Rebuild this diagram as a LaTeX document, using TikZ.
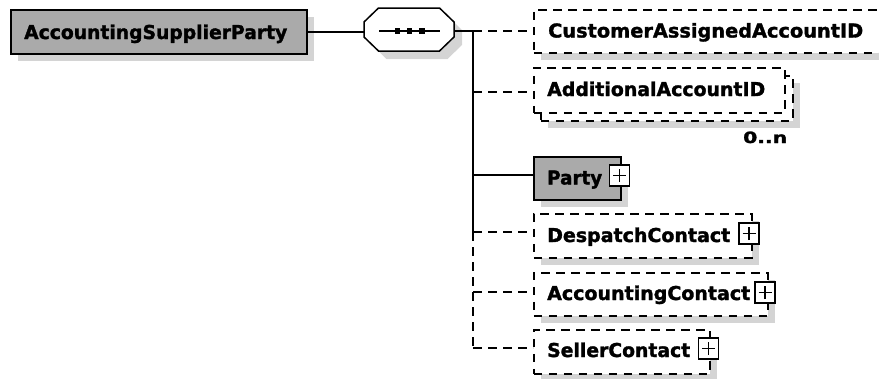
\documentclass[tikz,border=0pt]{standalone}
\usepackage{fontspec}
\setmainfont{DejaVu Sans}[BoldFeatures={FakeBold=1.6}]
\usepackage{graphicx}
\usetikzlibrary{shadows}
\definecolor{boxgray}{RGB}{170,170,170}
\definecolor{shd}{RGB}{212,212,212}
\newcommand{\fitlbl}[3][14.5]{\resizebox{#2pt}{#1pt}{\bfseries\vphantom{Al}#3}}
\tikzset{
  conn/.style={line width=1.5pt},
  opt/.style={conn, dash pattern=on 8.5pt off 6.5pt},
  box/.style={rectangle, anchor=north west, inner sep=0pt, line width=1.5pt, draw=black},
  shad/.style={drop shadow={shadow xshift=7pt, shadow yshift=-7pt, fill=shd, opacity=1, draw=none}},
  optbox/.style={box, fill=white, dash pattern=on 8.5pt off 6.5pt},
  reqbox/.style={box, fill=boxgray},
  lbl/.style={anchor=base west, inner sep=0pt},
  plusbox/.style={rectangle, draw=black, fill=white, line width=1.2pt, minimum width=20pt, minimum height=21pt, inner sep=0pt,
    path picture={
      \draw[line width=1.3pt] ([xshift=-6.5pt]path picture bounding box.center) -- ([xshift=6.5pt]path picture bounding box.center);
      \draw[line width=1.3pt] ([yshift=-6.5pt]path picture bounding box.center) -- ([yshift=6.5pt]path picture bounding box.center);}},
}
\begin{document}
\begin{tikzpicture}[x=1pt,y=-1pt]
\clip (0,0) rectangle (879,378);
% root element
\node[reqbox, shad, minimum width=296pt, minimum height=44pt] (asp) at (10,9) {};
\node[lbl] (aspt) at (24,39) {\fitlbl{263}{AccountingSupplierParty}};
% sequence compositor
\node[rectangle, inner sep=0pt, minimum width=90pt, minimum height=43pt, anchor=north west] (seq) at (364,8) {};
\begin{scope}[shift={(8pt,-8pt)}]
  \fill[shd] (378.5,8) -- (439.5,8) -- (454,22) -- (454,37) -- (439.5,51) -- (378.5,51) -- (364,37) -- (364,22) -- cycle;
\end{scope}
\draw[line width=1.5pt, fill=white] (378.5,8) -- (439.5,8) -- (454,22) -- (454,37) -- (439.5,51) -- (378.5,51) -- (364,37) -- (364,22) -- cycle;
\draw[line width=1.4pt] (379,31) -- (440,31);
\foreach \dx in {397.3,409.3,421.7} \fill (\dx-2.8,28.2) rectangle (\dx+2.8,33.8);
% junction points
\coordinate (hub) at (473,31);
\coordinate (j2) at (473,92);
\coordinate (j3) at (473,175);
\coordinate (j4) at (473,232);
\coordinate (j5) at (473,292);
\coordinate (j6) at (473,348);
% children
\node[optbox, shad, minimum width=360pt, minimum height=43pt] (caaid) at (533,9) {};
\node[optbox, shad, minimum width=252pt, minimum height=45pt] (aaidb) at (540,75) {};
\node[optbox, minimum width=251pt, minimum height=45pt] (aaid) at (533,67) {};
\node[reqbox, shad, minimum width=87pt, minimum height=43pt] (party) at (533,156) {};
\node[optbox, shad, minimum width=218pt, minimum height=44pt] (dc) at (533,213) {};
\node[optbox, shad, minimum width=234pt, minimum height=43pt] (ac) at (533,272) {};
\node[optbox, shad, minimum width=176pt, minimum height=44pt] (sc) at (533,329) {};
% expand boxes
\node[plusbox] (partyp) at (619.5,175.5) {};
\node[plusbox] (dcp) at (749,233.5) {};
\node[plusbox] (acp) at (765,292.5) {};
\node[plusbox] (scp) at (708.5,348.5) {};
% labels
\node[lbl] (caaidt) at (548,37.5) {\fitlbl{315}{CustomerAssignedAccountID}};
\node[lbl] (aaidt) at (547,96) {\fitlbl{218}{AdditionalAccountID}};
\node[lbl] (occ) at (743,143) {\resizebox{44pt}{11.5pt}{\bfseries 0..n}};
\node[lbl] (partyt) at (547,184.5) {\fitlbl{55}{Party}};
\node[lbl] (dct) at (547,242) {\fitlbl{183}{DespatchContact}};
\node[lbl] (act) at (547,300) {\fitlbl{203}{AccountingContact}};
\node[lbl] (sct) at (547,357) {\fitlbl{143}{SellerContact}};
% connectors
\draw[conn] (asp.east) -- (asp.east -| seq.west);
\draw[conn] (seq.east |- hub) -- (hub);
\draw[conn] (hub) -- (j4);
\draw[opt] (j4) -- (j6);
\draw[opt] (hub) -- (hub -| caaid.west);
\draw[opt] (j2) -- (j2 -| aaid.west);
\draw[conn] (j3) -- (j3 -| party.west);
\draw[opt] (j4) -- (j4 -| dc.west);
\draw[opt] (j5) -- (j5 -| ac.west);
\draw[opt] (j6) -- (j6 -| sc.west);
\end{tikzpicture}
\end{document}
